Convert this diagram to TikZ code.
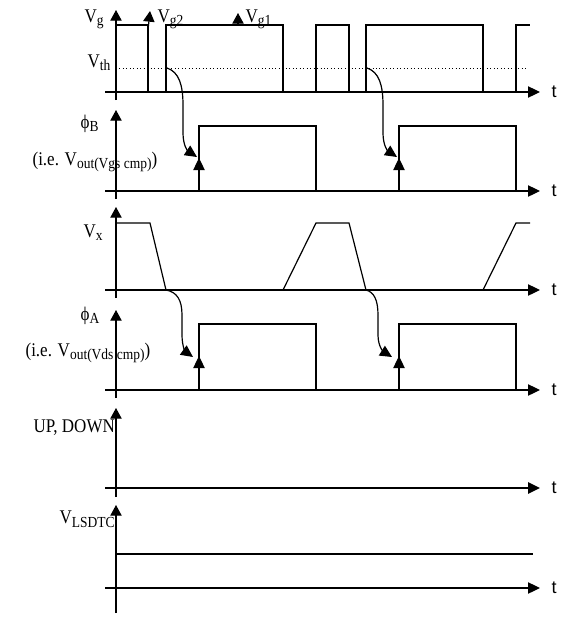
\documentclass[tikz,border=0pt]{standalone}
\usepackage{fontspec}
\setmainfont[FakeStretch=0.88]{Liberation Serif}
\newfontfamily\tfont{Liberation Sans}
\usetikzlibrary{arrows.meta}
\newcommand\lsub[1]{\raisebox{-0.45ex}{\fontsize{11.5}{12}\selectfont #1}}
\begin{document}
\begin{tikzpicture}[x=0.75pt,y=-0.75pt, line width=0.9pt,
 taxis/.style={-{Triangle[length=9pt,width=8.5pt]}},
 vaxis/.style={-{Triangle[length=8pt,width=8.5pt]}},
 cause/.style={-{Triangle[length=9pt,width=8.5pt]}},
 lbl/.style={font=\fontsize{14.5}{16}\selectfont, inner sep=0pt, anchor=base west},
 tl/.style={font=\tfont\fontsize{13.5}{14}\selectfont, inner sep=0pt, anchor=west}]
\useasboundingbox (0,0) rectangle (562,618);
% axes
\foreach \n/\y/\top/\bot in {1/92/10/100, 2/191/110/199, 3/290/207/298, 4/390/310/398, 6/588/505/613}{
  \node[tl] (t\n) at (551,\y) {t};
  \draw[taxis] (105,\y) -- (540,\y);
  \draw[vaxis] (116,\bot) -- (116,\top);
}
\node[tl] (t5) at (551,488) {t};
\draw[taxis, line width=1.5pt] (105,488) -- (540,488);
\draw[vaxis] (116,497) -- (116,408);
% Vg waveform
\draw (116,25) -- (148,25) -- (148,92) -- (166,92) -- (166,25) -- (283,25) -- (283,92)
  -- (316,92) -- (316,25) -- (349,25) -- (349,92) -- (366,92) -- (366,25) -- (483,25)
  -- (483,92) -- (516,92) -- (516,25) -- (530,25);
\draw[vaxis] (148,30) -- (150,11);
\draw[vaxis] (238,25) -- (238,13);
\draw[dotted, line width=0.6pt] (116,68) -- (527,68);
% phi_B
\draw (199,191) -- (199,126) -- (316,126) -- (316,191);
\draw (399,191) -- (399,126) -- (516,126) -- (516,191);
\draw[cause] (199,172) -- (199,158);
\draw[cause] (399,172) -- (399,158);
% Vx
\draw (116,223) -- (150,223) -- (166,290) (283,290) -- (316,223) -- (349,223) -- (366,290)
  (483,290) -- (516,223) -- (530,223);
% phi_A
\draw (199,390) -- (199,324) -- (316,324) -- (316,390);
\draw (399,390) -- (399,324) -- (516,324) -- (516,390);
\draw[cause] (199,370) -- (199,356);
\draw[cause] (399,370) -- (399,356);
% V_LSDTC level
\draw (116,554) -- (533,554);
% causal curves
\coordinate (c1a) at (167,68);  \coordinate (c1b) at (197,157);
\coordinate (c2a) at (367,68);  \coordinate (c2b) at (397,157);
\coordinate (c3a) at (166,290); \coordinate (c3b) at (193,357);
\coordinate (c4a) at (366,290); \coordinate (c4b) at (392,357);
\draw[cause] (c1a) .. controls (179,72) and (183,85) .. (183,105) -- (183,133) .. controls (183,146) and (188,151) .. (c1b);
\draw[cause] (c2a) .. controls (379,72) and (383,85) .. (383,105) -- (383,133) .. controls (383,146) and (388,151) .. (c2b);
\draw[cause] (c3a) .. controls (177,292) and (182,300) .. (182,315) -- (182,335) .. controls (182,347) and (186,352) .. (c3b);
\draw[cause] (c4a) .. controls (374,292) and (378,300) .. (378,315) -- (378,335) .. controls (378,347) and (384,352) .. (c4b);
% labels
\node[lbl] (vg) at (84,22) {V\lsub{g}};
\node[lbl] (vg2) at (157,22) {V\lsub{g2}};
\node[lbl] (vg1) at (245,22) {V\lsub{g1}};
\node[lbl] (vth) at (87,67) {V\lsub{th}};
\node[lbl] (phib) at (80,128) {ϕ\lsub{B}};
\node[lbl] (ieb) at (32,165) {(i.e. V\lsub{out(Vgs cmp)})};
\node[lbl] (vx) at (83,237) {V\lsub{x}};
\node[lbl] (phia) at (80,320) {ϕ\lsub{A}};
\node[lbl] (iea) at (25,356) {(i.e. V\lsub{out(Vds cmp)})};
\node[lbl] (updown) at (33,432) {UP, DOWN};
\node[lbl] (vls) at (59,523) {V\lsub{LSDTC}};
\end{tikzpicture}
\end{document}
